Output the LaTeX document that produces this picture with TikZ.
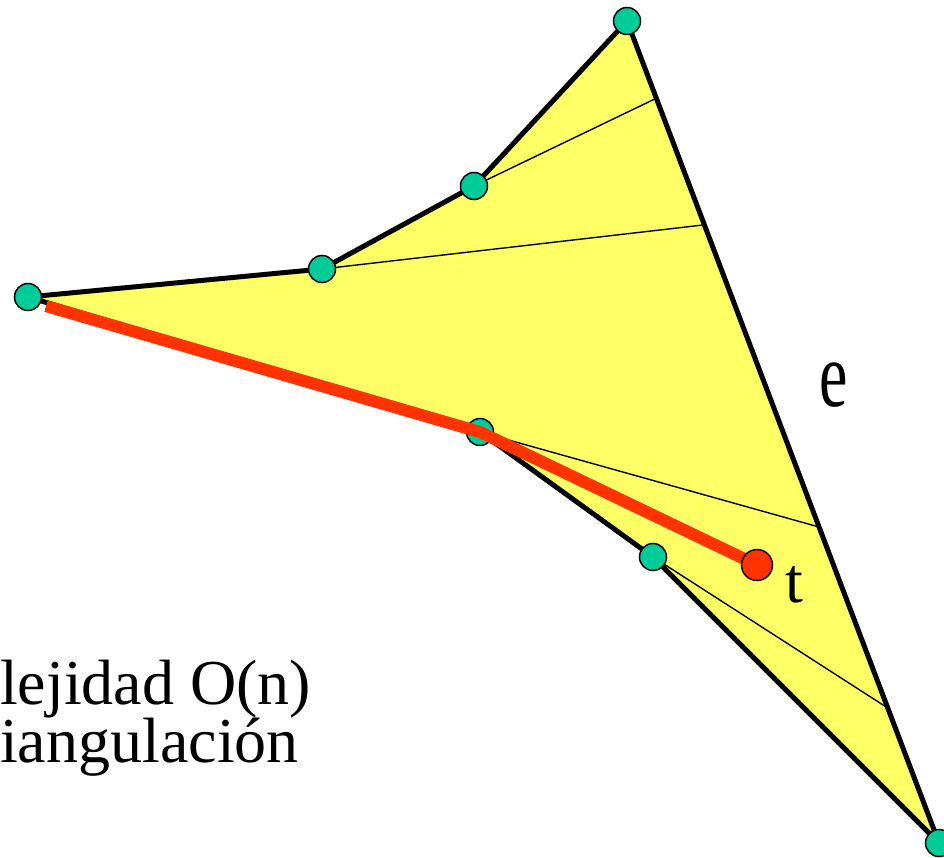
\documentclass[tikz,border=0pt]{standalone}
\usepackage{fontspec}
\setmainfont{Liberation Serif}
\usetikzlibrary{calc}
\definecolor{polyyellow}{HTML}{FFFF66}
\definecolor{vgreen}{HTML}{00CC99}
\definecolor{pred}{HTML}{FF3300}
\begin{document}
\begin{tikzpicture}[x=1pt,y=-1pt,
  vtx/.style={circle,fill=vgreen,draw=black,line width=1.5pt,minimum size=27pt,inner sep=0pt},
  tdot/.style={circle,fill=pred,draw=black,line width=1.5pt,minimum size=31pt,inner sep=0pt},
  edge/.style={line width=5pt,line join=round},
  diag/.style={line width=1.4pt},
  path/.style={line width=12pt,draw=pred,line join=round},
  lbl/.style={font=\fontsize{64}{64}\selectfont,inner sep=0pt,anchor=base west}]
\useasboundingbox (0,0) rectangle (944,858);
% vertex coordinates
\coordinate (a) at (28,297);
\coordinate (b) at (322,269);
\coordinate (c) at (474,186);
\coordinate (d) at (627,21);
\coordinate (e) at (939,843);
\coordinate (f) at (653,557);
\coordinate (g) at (480,432);
\coordinate (tt) at (757,565);
\coordinate (s) at (46,306);
% points on edge e
\coordinate (p1) at ($(d)!0.094!(e)$);
\coordinate (p2) at ($(d)!0.248!(e)$);
\coordinate (p3) at ($(d)!0.6156!(e)$);
\coordinate (p4) at ($(d)!0.8358!(e)$);
% polygon
\fill[polyyellow] (a) -- (b) -- (c) -- (d) -- (e) -- (f) -- (g) -- cycle;
\draw[diag] (c) -- (p1);
\draw[diag] (b) -- (p2);
\draw[diag] (g) -- (p3);
\draw[diag] (f) -- (p4);
\draw[edge] (a) -- (b) -- (c) -- (d) -- (e) -- (f) -- (g) -- cycle;
% vertices
\node[vtx] (A) at (a) {};
\node[vtx] (B) at (b) {};
\node[vtx] (C) at (c) {};
\node[vtx] (D) at (d) {};
\node[vtx] (E) at (e) {};
\node[vtx] (F) at (f) {};
\node[vtx] (G) at (g) {};
% red path
\draw[path] (s) -- (G.center) -- (tt);
\node[tdot] (T) at (tt) {};
% labels
\node[lbl] (le) at (819,406) {\scalebox{1}[1.45]{e}};
\node[lbl] (lt) at (785,602) {t};
\node[lbl] (l1) at (0,704) {lejidad O(n)};
\node[lbl] (l2) at (0,762) {iangulación};
\end{tikzpicture}
\end{document}
